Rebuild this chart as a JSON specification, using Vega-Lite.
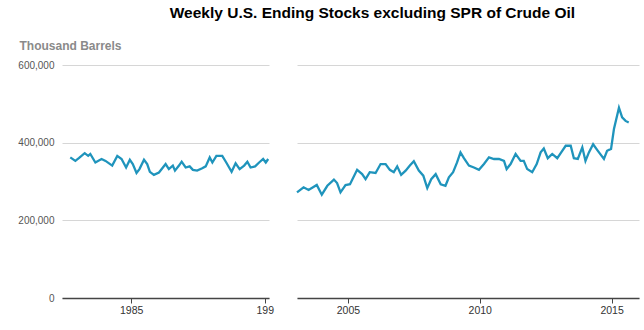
{
  "$schema": "https://vega.github.io/schema/vega-lite/v6.json",
  "background": "white",
  "padding": {"left": 17, "top": 5, "right": 7, "bottom": 5},
  "bounds": "flush",
  "spacing": 28,
  "title": {"text": "Weekly U.S. Ending Stocks excluding SPR of Crude Oil", "font": "Liberation Sans", "fontSize": 15.5, "fontWeight": "bold", "color": "#000000", "anchor": "middle", "dx": 44, "offset": 18},
  "datasets": {
    "early": [
      {"year": 1982.72, "stocks": 362000}, {"year": 1982.91, "stocks": 353000}, {"year": 1983.04, "stocks": 360000},
      {"year": 1983.26, "stocks": 373000}, {"year": 1983.39, "stocks": 366000}, {"year": 1983.47, "stocks": 371000},
      {"year": 1983.66, "stocks": 349000}, {"year": 1983.89, "stocks": 358000}, {"year": 1984.04, "stocks": 353000},
      {"year": 1984.29, "stocks": 341000}, {"year": 1984.48, "stocks": 366000}, {"year": 1984.64, "stocks": 358000},
      {"year": 1984.81, "stocks": 336000}, {"year": 1984.95, "stocks": 356000}, {"year": 1985.06, "stocks": 345000},
      {"year": 1985.2, "stocks": 322000}, {"year": 1985.31, "stocks": 332000}, {"year": 1985.48, "stocks": 356000},
      {"year": 1985.6, "stocks": 345000}, {"year": 1985.7, "stocks": 325000}, {"year": 1985.85, "stocks": 317000},
      {"year": 1986.04, "stocks": 323000}, {"year": 1986.29, "stocks": 345000}, {"year": 1986.41, "stocks": 332000},
      {"year": 1986.56, "stocks": 341000}, {"year": 1986.64, "stocks": 328000}, {"year": 1986.79, "stocks": 341000},
      {"year": 1986.89, "stocks": 351000}, {"year": 1987.04, "stocks": 336000}, {"year": 1987.19, "stocks": 339000},
      {"year": 1987.31, "stocks": 330000}, {"year": 1987.47, "stocks": 328000}, {"year": 1987.66, "stocks": 334000},
      {"year": 1987.79, "stocks": 339000}, {"year": 1987.94, "stocks": 362000}, {"year": 1988.04, "stocks": 349000},
      {"year": 1988.19, "stocks": 366000}, {"year": 1988.41, "stocks": 366000}, {"year": 1988.56, "stocks": 349000},
      {"year": 1988.76, "stocks": 325000}, {"year": 1988.91, "stocks": 347000}, {"year": 1989.06, "stocks": 332000},
      {"year": 1989.23, "stocks": 341000}, {"year": 1989.35, "stocks": 351000}, {"year": 1989.47, "stocks": 336000},
      {"year": 1989.64, "stocks": 339000}, {"year": 1989.79, "stocks": 349000}, {"year": 1989.94, "stocks": 358000},
      {"year": 1990.04, "stocks": 349000}, {"year": 1990.13, "stocks": 358000}
    ],
    "late": [
      {"year": 2003.07, "stocks": 272000}, {"year": 2003.32, "stocks": 285000}, {"year": 2003.51, "stocks": 278000},
      {"year": 2003.82, "stocks": 291000}, {"year": 2004.01, "stocks": 266000}, {"year": 2004.22, "stocks": 289000},
      {"year": 2004.47, "stocks": 305000}, {"year": 2004.59, "stocks": 296000}, {"year": 2004.72, "stocks": 272000},
      {"year": 2004.91, "stocks": 291000}, {"year": 2005.08, "stocks": 293000}, {"year": 2005.35, "stocks": 330000},
      {"year": 2005.54, "stocks": 319000}, {"year": 2005.67, "stocks": 306000}, {"year": 2005.83, "stocks": 324000},
      {"year": 2006.05, "stocks": 322000}, {"year": 2006.24, "stocks": 345000}, {"year": 2006.43, "stocks": 345000},
      {"year": 2006.59, "stocks": 330000}, {"year": 2006.74, "stocks": 324000}, {"year": 2006.87, "stocks": 339000},
      {"year": 2007.02, "stocks": 317000}, {"year": 2007.19, "stocks": 328000}, {"year": 2007.35, "stocks": 341000},
      {"year": 2007.5, "stocks": 352000}, {"year": 2007.69, "stocks": 328000}, {"year": 2007.86, "stocks": 315000},
      {"year": 2008.01, "stocks": 283000}, {"year": 2008.16, "stocks": 306000}, {"year": 2008.33, "stocks": 319000},
      {"year": 2008.52, "stocks": 293000}, {"year": 2008.7, "stocks": 289000}, {"year": 2008.83, "stocks": 311000},
      {"year": 2008.99, "stocks": 324000}, {"year": 2009.14, "stocks": 349000}, {"year": 2009.27, "stocks": 375000},
      {"year": 2009.4, "stocks": 360000}, {"year": 2009.59, "stocks": 341000}, {"year": 2009.78, "stocks": 336000},
      {"year": 2009.97, "stocks": 330000}, {"year": 2010.16, "stocks": 345000}, {"year": 2010.35, "stocks": 362000},
      {"year": 2010.54, "stocks": 358000}, {"year": 2010.73, "stocks": 358000}, {"year": 2010.92, "stocks": 353000},
      {"year": 2011.02, "stocks": 332000}, {"year": 2011.17, "stocks": 345000}, {"year": 2011.36, "stocks": 371000},
      {"year": 2011.55, "stocks": 353000}, {"year": 2011.67, "stocks": 353000}, {"year": 2011.8, "stocks": 332000},
      {"year": 2011.99, "stocks": 324000}, {"year": 2012.16, "stocks": 345000}, {"year": 2012.31, "stocks": 375000},
      {"year": 2012.43, "stocks": 385000}, {"year": 2012.58, "stocks": 360000}, {"year": 2012.75, "stocks": 371000},
      {"year": 2012.94, "stocks": 360000}, {"year": 2013.09, "stocks": 375000}, {"year": 2013.26, "stocks": 392000},
      {"year": 2013.45, "stocks": 392000}, {"year": 2013.57, "stocks": 360000}, {"year": 2013.72, "stocks": 358000},
      {"year": 2013.89, "stocks": 388000}, {"year": 2014.01, "stocks": 353000}, {"year": 2014.14, "stocks": 375000},
      {"year": 2014.3, "stocks": 396000}, {"year": 2014.48, "stocks": 379000}, {"year": 2014.71, "stocks": 358000},
      {"year": 2014.83, "stocks": 379000}, {"year": 2014.98, "stocks": 384000}, {"year": 2015.09, "stocks": 435000},
      {"year": 2015.28, "stocks": 490000}, {"year": 2015.4, "stocks": 465000}, {"year": 2015.53, "stocks": 456000},
      {"year": 2015.65, "stocks": 452000}
    ]
  },
  "hconcat": [
    {
      "width": 207,
      "height": 233,
      "data": {"name": "early"},
      "mark": {"type": "line", "color": "#1f94bc", "strokeWidth": 2.3},
      "encoding": {
        "x": {"field": "year", "type": "quantitative",
              "scale": {"domain": [1982.41, 1990.16], "nice": false, "zero": false},
              "axis": {"values": [1985, 1990], "labelExpr": "datum.value == 1990 ? '199' : datum.label", "format": "d", "title": null, "grid": false}},
        "y": {"field": "stocks", "type": "quantitative",
              "scale": {"domain": [0, 600000], "nice": false},
              "axis": {"values": [0, 200000, 400000, 600000], "format": ",d", "title": "Thousand Barrels",
                       "titleAngle": 0, "titleAlign": "left", "titleBaseline": "alphabetic", "titleX": -43, "titleY": -16,
                       "titleFont": "Liberation Sans", "titleFontSize": 12, "titleFontWeight": "bold", "titleColor": "#8a8a8a",
                       "labelFontSize": 10, "labelColor": "#555555",
                       "labelPadding": 8, "ticks": false, "domain": false, "grid": true}}
      }
    },
    {
      "width": 342,
      "height": 233,
      "data": {"name": "late"},
      "mark": {"type": "line", "color": "#1f94bc", "strokeWidth": 2.3},
      "encoding": {
        "x": {"field": "year", "type": "quantitative",
              "scale": {"domain": [2003.07, 2016.04], "nice": false, "zero": false},
              "axis": {"values": [2005, 2010, 2015], "format": "d", "title": null, "grid": false}},
        "y": {"field": "stocks", "type": "quantitative",
              "scale": {"domain": [0, 600000], "nice": false},
              "axis": {"values": [0, 200000, 400000, 600000], "title": null, "labels": false, "ticks": false, "domain": false, "grid": true}}
      }
    }
  ],
  "config": {
    "view": {"stroke": null},
    "axis": {"labelFont": "Liberation Sans", "labelFontSize": 10.5, "labelColor": "#444444", "gridColor": "#d6d6d6", "gridWidth": 1},
    "axisX": {"domainColor": "#444444", "domainWidth": 1.3, "tickColor": "#444444", "tickSize": 5, "labelFlush": false, "labelPadding": 2, "labelColor": "#333333"}
  }
}
